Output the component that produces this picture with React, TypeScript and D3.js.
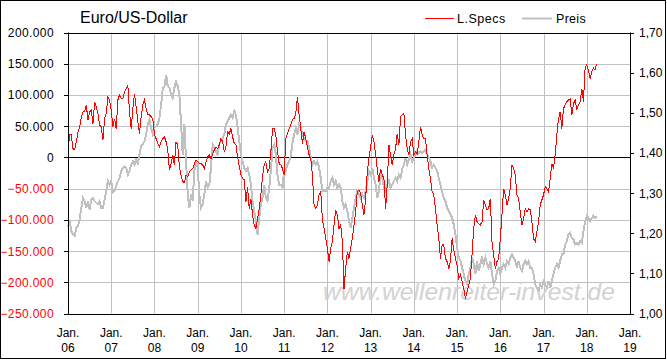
import React from "react";
import * as d3 from "d3";

// ---- data (bi-weekly samples starting Jan 2006) ----
const START_YEAR = 2006;
const STEP_YEARS = 1 / 26;

// Large speculators net position, thousands of contracts
const lSpecsK: number[] = [
  10, 37, 36, 14, 12, 25, 41, 49, 65, 73,
  73, 84, 60, 73, 76, 54, 89, 81, 70, 52,
  49, 28, 62, 70, 97, 92, 76, 49, 62, 46,
  92, 100, 94, 94, 105, 110, 115, 73, 46, 78,
  102, 81, 57, 38, 65, 84, 92, 78, 68, 68,
  65, 62, 36, 30, 22, 17, 25, 30, 33, 25,
  12, -20, -10, 4, -12, 25, 20, -15,
  -28, -39, -40, -28, -31, -23, -20, -18, -10, -4,
  -7, -10, -10, -12, -18, -7, 1, 4, -2, 6,
  12, 17, 14, 20, 30, 25, 9, 17, 41, 38,
  46, 33, 22, 20, 1, -15, -28, -34, -36, -71,
  -47, -82, -66, -92, -108, -114, -98, -82, -60, -31,
  -12, -7, -23, -18, 9, 46, 46, 36, 9, -10,
  -12, -18, -28, 30, 38, 46, 52, 61,
  62, 70, 97, 68, 46, 22, 41, 30, 17, 4,
  -2, -28, -76, -82, -76, -60, -55, -100, -114, -130,
  -146, -167, -146, -135, -108, -84, -92, -114, -108, -135,
  -210, -178, -151, -162, -146, -130, -108, -87, -55, -52,
  -58, -76, -92, -66, -23, -2, 17, 36, 25, 4,
  -18, -39, -18, -28, -34, -82, -44, 20, 4, -12,
  4, 14, 38, 20, 65, 68, 70,
  36, 14, 4, 25, 30, 4, 9, 6, 25, 49,
  36, 30, 30, 4, -18, -34, -55, -60, -82, -108,
  -130, -162, -140, -140, -162, -167, -178, -167, -130, -148,
  -162, -173, -194, -188, -199, -210, -226, -215, -204, -194,
  -156, -114, -92, -103, -106, -108, -103, -68, -76, -84,
  -82, -66, -135, -156, -178, -167, -162, -130, -92, -50,
  -60, -76, -66, -50, -12, -18,
  -28, -60, -66, -87, -108, -98, -82, -87, -82, -84,
  -103, -130, -135, -119, -103, -76, -68, -60, -47, -50,
  -55, -34, -10, -18, 4, 36, 62, 73, 46, 78,
  84, 89, 92, 94, 68, 86, 92, 76, 84, 89,
  110, 89, 143, 148, 140, 126, 137, 143, 140, 150,
];

// EUR/USD price
const preis: number[] = [
  1.214, 1.23, 1.205, 1.197, 1.193, 1.214, 1.218, 1.234, 1.263, 1.288,
  1.28, 1.263, 1.28, 1.259, 1.284, 1.288, 1.28, 1.276, 1.272, 1.28,
  1.263, 1.263, 1.284, 1.305, 1.33, 1.321, 1.33, 1.301, 1.305, 1.317,
  1.33, 1.338, 1.355, 1.363, 1.367, 1.363, 1.346, 1.355, 1.371, 1.379,
  1.371, 1.384, 1.375, 1.396, 1.417, 1.421, 1.429, 1.446, 1.471, 1.483,
  1.462, 1.446, 1.462, 1.466, 1.471, 1.487, 1.52, 1.562, 1.566, 1.595,
  1.566, 1.562, 1.545, 1.537, 1.562, 1.578, 1.566, 1.545,
  1.471, 1.396, 1.471, 1.379, 1.297, 1.263, 1.297, 1.28, 1.355, 1.379,
  1.363, 1.297, 1.263, 1.272, 1.297, 1.33, 1.313, 1.321, 1.363, 1.421,
  1.413, 1.404, 1.396, 1.421, 1.429, 1.437, 1.446, 1.471, 1.479, 1.487,
  1.495, 1.487, 1.504, 1.495, 1.462, 1.429, 1.396, 1.379, 1.363, 1.355,
  1.363, 1.346, 1.321, 1.28, 1.255, 1.23, 1.197, 1.238, 1.272, 1.288,
  1.321, 1.288, 1.28, 1.313, 1.355, 1.413, 1.421, 1.396, 1.346, 1.321,
  1.321, 1.313, 1.355, 1.355, 1.371, 1.379, 1.392, 1.425,
  1.446, 1.462, 1.446, 1.471, 1.462, 1.446, 1.437, 1.429, 1.429, 1.413,
  1.388, 1.371, 1.379, 1.371, 1.379, 1.363, 1.338, 1.305, 1.305, 1.305,
  1.313, 1.313, 1.33, 1.338, 1.321, 1.33, 1.313, 1.321, 1.313, 1.28,
  1.263, 1.272, 1.255, 1.23, 1.214, 1.238, 1.263, 1.288, 1.305, 1.297,
  1.288, 1.297, 1.288, 1.305, 1.33, 1.355, 1.346, 1.363, 1.338, 1.321,
  1.288, 1.305, 1.346, 1.338, 1.313, 1.305, 1.321, 1.33, 1.313, 1.321,
  1.33, 1.338, 1.33, 1.346, 1.338, 1.36, 1.37,
  1.388, 1.371, 1.384, 1.396, 1.379, 1.388, 1.396, 1.404, 1.4, 1.404,
  1.4, 1.404, 1.408, 1.396, 1.388, 1.379, 1.363, 1.371, 1.363, 1.355,
  1.338, 1.321, 1.305, 1.288, 1.28, 1.263, 1.255, 1.247, 1.238, 1.222,
  1.197, 1.164, 1.139, 1.131, 1.114, 1.098, 1.081, 1.073, 1.098, 1.114,
  1.139, 1.123, 1.098, 1.131, 1.106, 1.123, 1.139, 1.123, 1.139, 1.123,
  1.114, 1.131, 1.098, 1.073, 1.081, 1.106, 1.114, 1.098, 1.114, 1.123,
  1.114, 1.131, 1.123, 1.139, 1.147, 1.139,
  1.131, 1.114, 1.131, 1.114, 1.106, 1.123, 1.131, 1.123, 1.131, 1.114,
  1.114, 1.098, 1.073, 1.064, 1.056, 1.073, 1.064, 1.081, 1.073, 1.064,
  1.081, 1.064, 1.081, 1.098, 1.114, 1.123, 1.114, 1.131, 1.147, 1.147,
  1.172, 1.18, 1.197, 1.201, 1.189, 1.185, 1.172, 1.176, 1.172, 1.18,
  1.176, 1.205, 1.23, 1.243, 1.238, 1.23, 1.238, 1.243, 1.238, 1.243,
];

const leftTicksK = [200, 150, 100, 50, 0, -50, -100, -150, -200, -250];
const rightTicks = [1.7, 1.6, 1.5, 1.4, 1.3, 1.2, 1.1, 1.0];
const yearTicks = [2006, 2007, 2008, 2009, 2010, 2011, 2012, 2013, 2014, 2015, 2016, 2017, 2018, 2019];

const TITLE = "Euro/US-Dollar";
const SERIES_NAMES = ["L.Specs", "Preis"];
const WATERMARK = "www.wellenreiter-invest.de";

const W = 667;
const H = 361;
const PL = 68;
const PR = 630;
const PT = 32.5;
const PB = 313.5;

const FONT = "'Liberation Sans', Arial, sans-serif";
const GRID = "#c0c0c0";
const RED = "#ff0000";
const GRAY = "#c0c0c0";

const de = d3.formatLocale({ decimal: ",", thousands: ".", grouping: [3], currency: ["", "€"] });
const fmtLeft = de.format(",.0f");
const fmtRight = de.format(".2f");

export default function App() {
  const x = d3.scaleLinear().domain([2006, 2019]).range([PL, PR]);
  const yL = d3.scaleLinear().domain([-250, 200]).range([PB, PT]);
  const yR = d3.scaleLinear().domain([1.0, 1.7]).range([PB, PT]);

  const t = (i: number) => START_YEAR + i * STEP_YEARS;
  const redLine = d3
    .line<number>()
    .x((_, i) => x(t(i)))
    .y((d) => yL(d));
  const grayLine = d3
    .line<number>()
    .x((_, i) => x(t(i)))
    .y((d) => yR(d));

  const crisp = (v: number) => Math.round(v) + 0.5;

  return (
    <svg
      width={W}
      height={H}
      style={{ position: "absolute", left: 0, top: 0, background: "#fff" }}
      fontFamily={FONT}
    >
      <rect x={0} y={0} width={W} height={H} fill="#fff" />
      {/* outer frame */}
      <rect x={0.5} y={0.5} width={665} height={358} fill="none" stroke="#000" strokeWidth={1} />

      {/* grid */}
      {leftTicksK
        .filter((v) => v !== 0 && v !== -250 && v !== 200)
        .map((v) => (
          <line key={"h" + v} x1={PL} x2={PR} y1={crisp(yL(v))} y2={crisp(yL(v))} stroke={GRID} strokeWidth={1} />
        ))}
      {yearTicks
        .filter((y) => y !== 2006 && y !== 2019)
        .map((y) => (
          <line key={"v" + y} x1={crisp(x(y))} x2={crisp(x(y))} y1={PT} y2={PB} stroke={GRID} strokeWidth={1} />
        ))}

      {/* watermark */}
      <text
        x={323}
        y={300}
        fontSize={24.5}
        fontStyle="italic"
        fill="#d2d2d2"
        textLength={292}
        lengthAdjust="spacingAndGlyphs"
      >
        {WATERMARK}
      </text>

      {/* zero line */}
      <line x1={PL} x2={PR} y1={crisp(yL(0))} y2={crisp(yL(0))} stroke="#000" strokeWidth={1} />

      {/* series */}
      <path
        d={grayLine(preis) || ""}
        fill="none"
        stroke={GRAY}
        strokeWidth={2}
        shapeRendering="crispEdges"
      />
      <path d={redLine(lSpecsK) || ""} fill="none" stroke={RED} strokeWidth={1} shapeRendering="crispEdges" />

      {/* axes frame */}
      <line x1={PL - 4} x2={PR + 4} y1={crisp(PT)} y2={crisp(PT)} stroke="#000" />
      <line x1={PL - 4} x2={PR + 4} y1={crisp(PB)} y2={crisp(PB)} stroke="#000" />
      <line x1={crisp(PL)} x2={crisp(PL)} y1={PT} y2={PB + 1} stroke="#000" />
      <line x1={crisp(PR)} x2={crisp(PR)} y1={PT} y2={PB + 1} stroke="#000" />

      {/* left axis */}
      {leftTicksK.map((v) => (
        <g key={"l" + v}>
          <line x1={PL - 4} x2={PL} y1={crisp(yL(v))} y2={crisp(yL(v))} stroke="#000" />
          <text
            x={54}
            y={yL(v) + 4.5}
            textAnchor="end"
            fontSize={12}
            letterSpacing={0.4}
            fill={v < 0 ? RED : "#000"}
          >
            {fmtLeft(v * 1000)}
          </text>
        </g>
      ))}

      {/* right axis */}
      {rightTicks.map((v) => (
        <g key={"r" + v}>
          <line x1={PR} x2={PR + 4} y1={crisp(yR(v))} y2={crisp(yR(v))} stroke="#000" />
          <text x={639} y={yR(v) + 4.5} fontSize={12} fill="#000">
            {fmtRight(v)}
          </text>
        </g>
      ))}

      {/* x axis labels */}
      {yearTicks.map((y) => (
        <g key={"x" + y}>
          <text x={x(y)} y={337} textAnchor="middle" fontSize={12} fill="#000">
            Jan.
          </text>
          <text x={x(y)} y={352} textAnchor="middle" fontSize={12} fill="#000">
            {String(y % 100).padStart(2, "0")}
          </text>
        </g>
      ))}

      {/* title */}
      <text x={80} y={23} fontSize={16} fill="#000">
        {TITLE}
      </text>

      {/* legend */}
      <line x1={425} x2={454} y1={18.5} y2={18.5} stroke={RED} strokeWidth={1} />
      <text x={457} y={23} fontSize={12.5} letterSpacing={0.5} fill="#000">
        {SERIES_NAMES[0]}
      </text>
      <line x1={522} x2={552} y1={18.5} y2={18.5} stroke={GRAY} strokeWidth={2} />
      <text x={556} y={23} fontSize={12.5} letterSpacing={0.3} fill="#000">
        {SERIES_NAMES[1]}
      </text>
    </svg>
  );
}
